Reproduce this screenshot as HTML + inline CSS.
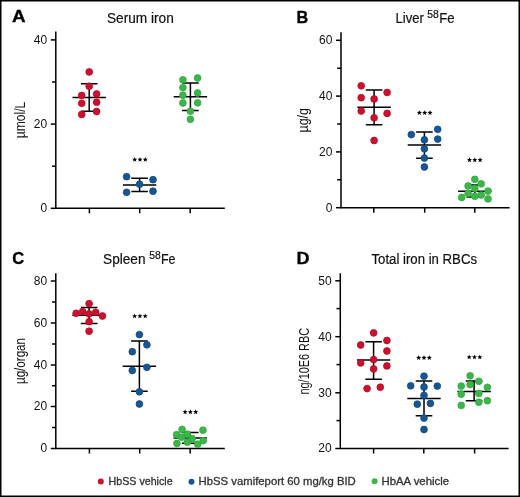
<!DOCTYPE html>
<html><head><meta charset="utf-8"><style>
html,body{margin:0;padding:0;background:#fff;}
body{width:520px;height:497px;overflow:hidden;}
svg{display:block;will-change:transform;}
text{font-family:"Liberation Sans",sans-serif;}
.lab{font-size:17.4px;font-weight:bold;fill:#000;stroke:#000;stroke-width:0.35px;}
.ti{font-size:14px;fill:#111;stroke:#111;stroke-width:0.2px;}
.sup{font-size:10.3px;}
.tk{font-size:12px;fill:#111;text-anchor:end;}
.yl{font-size:14px;fill:#111;}
.lg{font-size:10.5px;fill:#333;stroke:#333;stroke-width:0.3px;}
.ax{stroke:#000;stroke-width:1.5;fill:none;}
.eb{stroke:#000;stroke-width:1.5;fill:none;}
.st{fill:#000;}
</style></head><body>
<svg width="520" height="497" viewBox="0 0 520 497">
<rect x="0.75" y="0.75" width="518.5" height="495.5" fill="#fff" stroke="#000" stroke-width="1.5"/>
<text x="11.9" y="22.4" class="lab" textLength="13.6" lengthAdjust="spacingAndGlyphs">A</text>
<text x="107" y="22.5" class="ti" textLength="66.8" lengthAdjust="spacingAndGlyphs">Serum iron</text>
<path d="M55.8,31.4 V208.3 H224.8" class="ax"/>
<path d="M50.8,39.9 H55.8" class="ax"/>
<text x="47.199999999999996" y="43.699999999999996" class="tk">40</text>
<path d="M50.8,124.1 H55.8" class="ax"/>
<text x="47.199999999999996" y="127.89999999999999" class="tk">20</text>
<path d="M50.8,208.3 H55.8" class="ax"/>
<text x="47.199999999999996" y="212.10000000000002" class="tk">0</text>
<path d="M52.0,82 H55.8" class="ax"/>
<path d="M52.0,166.2 H55.8" class="ax"/>
<path d="M89.4,208.3 V213.3" class="ax"/>
<path d="M139.7,208.3 V213.3" class="ax"/>
<path d="M190.2,208.3 V213.3" class="ax"/>
<text class="yl" transform="translate(24.7,120) rotate(-90)" text-anchor="middle" textLength="36.5" lengthAdjust="spacingAndGlyphs">µmol/L</text>
<path d="M72.5,97.4 H105.9 M80.9,83.7 H97.5 M80.9,111.3 H97.5 M89.2,83.7 V111.3" class="eb"/>
<circle cx="89.2" cy="71.9" r="3.4" fill="#c8122f" stroke="#bf0622" stroke-width="0.75"/>
<circle cx="89.2" cy="86.2" r="3.4" fill="#c8122f" stroke="#bf0622" stroke-width="0.75"/>
<circle cx="81.7" cy="95.5" r="3.4" fill="#c8122f" stroke="#bf0622" stroke-width="0.75"/>
<circle cx="96.6" cy="94" r="3.4" fill="#c8122f" stroke="#bf0622" stroke-width="0.75"/>
<circle cx="81.7" cy="103.3" r="3.4" fill="#c8122f" stroke="#bf0622" stroke-width="0.75"/>
<circle cx="96.6" cy="102.2" r="3.4" fill="#c8122f" stroke="#bf0622" stroke-width="0.75"/>
<circle cx="81.7" cy="114.5" r="3.4" fill="#c8122f" stroke="#bf0622" stroke-width="0.75"/>
<circle cx="96.6" cy="111.5" r="3.4" fill="#c8122f" stroke="#bf0622" stroke-width="0.75"/>
<path d="M122.89999999999999,185 H156.29999999999998 M131.29999999999998,178.2 H147.9 M131.29999999999998,191.4 H147.9 M139.6,178.2 V191.4" class="eb"/>
<circle cx="126.6" cy="176.7" r="3.4" fill="#185692" stroke="#0e4a85" stroke-width="0.75"/>
<circle cx="139.6" cy="184.2" r="3.4" fill="#185692" stroke="#0e4a85" stroke-width="0.75"/>
<circle cx="153" cy="179.7" r="3.4" fill="#185692" stroke="#0e4a85" stroke-width="0.75"/>
<circle cx="126.6" cy="192.3" r="3.4" fill="#185692" stroke="#0e4a85" stroke-width="0.75"/>
<circle cx="153" cy="191.2" r="3.4" fill="#185692" stroke="#0e4a85" stroke-width="0.75"/>
<path d="M173.70000000000002,96.7 H207.1 M182.1,83.1 H198.70000000000002 M182.1,110.5 H198.70000000000002 M190.4,83.1 V110.5" class="eb"/>
<circle cx="182.9" cy="79.8" r="3.4" fill="#3db54a" stroke="#2cab3b" stroke-width="0.75"/>
<circle cx="197.6" cy="78" r="3.4" fill="#3db54a" stroke="#2cab3b" stroke-width="0.75"/>
<circle cx="182.9" cy="87.6" r="3.4" fill="#3db54a" stroke="#2cab3b" stroke-width="0.75"/>
<circle cx="182.9" cy="95.2" r="3.4" fill="#3db54a" stroke="#2cab3b" stroke-width="0.75"/>
<circle cx="197.6" cy="93" r="3.4" fill="#3db54a" stroke="#2cab3b" stroke-width="0.75"/>
<circle cx="182.9" cy="103" r="3.4" fill="#3db54a" stroke="#2cab3b" stroke-width="0.75"/>
<circle cx="197.6" cy="102.8" r="3.4" fill="#3db54a" stroke="#2cab3b" stroke-width="0.75"/>
<circle cx="190.4" cy="111.2" r="3.4" fill="#3db54a" stroke="#2cab3b" stroke-width="0.75"/>
<circle cx="190.4" cy="119.3" r="3.4" fill="#3db54a" stroke="#2cab3b" stroke-width="0.75"/>
<g class="st"><polygon points="134.70,156.95 135.39,158.66 137.22,158.78 135.81,159.96 136.26,161.74 134.70,160.77 133.14,161.74 133.59,159.96 132.18,158.78 134.01,158.66"/><polygon points="140.00,156.95 140.69,158.66 142.52,158.78 141.11,159.96 141.56,161.74 140.00,160.77 138.44,161.74 138.89,159.96 137.48,158.78 139.31,158.66"/><polygon points="145.30,156.95 145.99,158.66 147.82,158.78 146.41,159.96 146.86,161.74 145.30,160.77 143.74,161.74 144.19,159.96 142.78,158.78 144.61,158.66"/></g>
<text x="296.6" y="22.6" class="lab" textLength="11.7" lengthAdjust="spacingAndGlyphs">B</text>
<text x="395.6" y="22.5" class="ti" textLength="28.3" lengthAdjust="spacingAndGlyphs">Liver</text><text x="427.2" y="17.8" class="ti sup">58</text><text x="439.2" y="22.5" class="ti" textLength="15.4" lengthAdjust="spacingAndGlyphs">Fe</text>
<path d="M341,32.2 V207.7 H509.6" class="ax"/>
<path d="M336,40.3 H341" class="ax"/>
<text x="332.4" y="44.099999999999994" class="tk">60</text>
<path d="M336,96.1 H341" class="ax"/>
<text x="332.4" y="99.89999999999999" class="tk">40</text>
<path d="M336,151.9 H341" class="ax"/>
<text x="332.4" y="155.70000000000002" class="tk">20</text>
<path d="M336,207.7 H341" class="ax"/>
<text x="332.4" y="211.5" class="tk">0</text>
<path d="M337.2,68.2 H341" class="ax"/>
<path d="M337.2,124 H341" class="ax"/>
<path d="M337.2,179.8 H341" class="ax"/>
<path d="M373.8,207.7 V212.7" class="ax"/>
<path d="M424.7,207.7 V212.7" class="ax"/>
<path d="M474.8,207.7 V212.7" class="ax"/>
<text class="yl" transform="translate(308.2,120.3) rotate(-90)" text-anchor="middle" textLength="24.5" lengthAdjust="spacingAndGlyphs">µg/g</text>
<path d="M357.40000000000003,107.3 H390.8 M365.8,89.9 H382.40000000000003 M365.8,124.7 H382.40000000000003 M374.1,89.9 V124.7" class="eb"/>
<circle cx="361.2" cy="85.8" r="3.4" fill="#c8122f" stroke="#bf0622" stroke-width="0.75"/>
<circle cx="387.1" cy="92.5" r="3.4" fill="#c8122f" stroke="#bf0622" stroke-width="0.75"/>
<circle cx="361.2" cy="97.7" r="3.4" fill="#c8122f" stroke="#bf0622" stroke-width="0.75"/>
<circle cx="374.1" cy="99" r="3.4" fill="#c8122f" stroke="#bf0622" stroke-width="0.75"/>
<circle cx="361.2" cy="111" r="3.4" fill="#c8122f" stroke="#bf0622" stroke-width="0.75"/>
<circle cx="387.1" cy="113.4" r="3.4" fill="#c8122f" stroke="#bf0622" stroke-width="0.75"/>
<circle cx="374.1" cy="117.8" r="3.4" fill="#c8122f" stroke="#bf0622" stroke-width="0.75"/>
<circle cx="374.1" cy="140.5" r="3.4" fill="#c8122f" stroke="#bf0622" stroke-width="0.75"/>
<path d="M407.7,145 H441.09999999999997 M416.09999999999997,131.9 H432.7 M416.09999999999997,158.3 H432.7 M424.4,131.9 V158.3" class="eb"/>
<circle cx="411.3" cy="134.6" r="3.4" fill="#185692" stroke="#0e4a85" stroke-width="0.75"/>
<circle cx="437.7" cy="129.3" r="3.4" fill="#185692" stroke="#0e4a85" stroke-width="0.75"/>
<circle cx="424.4" cy="139.8" r="3.4" fill="#185692" stroke="#0e4a85" stroke-width="0.75"/>
<circle cx="437.7" cy="139.1" r="3.4" fill="#185692" stroke="#0e4a85" stroke-width="0.75"/>
<circle cx="424.4" cy="148.8" r="3.4" fill="#185692" stroke="#0e4a85" stroke-width="0.75"/>
<circle cx="424.4" cy="158.1" r="3.4" fill="#185692" stroke="#0e4a85" stroke-width="0.75"/>
<circle cx="424.4" cy="167" r="3.4" fill="#185692" stroke="#0e4a85" stroke-width="0.75"/>
<path d="M458.1,191.3 H491.5 M466.5,185 H483.1 M466.5,197.1 H483.1 M474.8,185 V197.1" class="eb"/>
<circle cx="474.8" cy="179.3" r="3.4" fill="#3db54a" stroke="#2cab3b" stroke-width="0.75"/>
<circle cx="481.2" cy="183.8" r="3.4" fill="#3db54a" stroke="#2cab3b" stroke-width="0.75"/>
<circle cx="468.1" cy="185.9" r="3.4" fill="#3db54a" stroke="#2cab3b" stroke-width="0.75"/>
<circle cx="474.8" cy="188.4" r="3.4" fill="#3db54a" stroke="#2cab3b" stroke-width="0.75"/>
<circle cx="488" cy="191.1" r="3.4" fill="#3db54a" stroke="#2cab3b" stroke-width="0.75"/>
<circle cx="468.1" cy="193.5" r="3.4" fill="#3db54a" stroke="#2cab3b" stroke-width="0.75"/>
<circle cx="481.2" cy="195" r="3.4" fill="#3db54a" stroke="#2cab3b" stroke-width="0.75"/>
<circle cx="474.8" cy="196.3" r="3.4" fill="#3db54a" stroke="#2cab3b" stroke-width="0.75"/>
<circle cx="461.7" cy="197.5" r="3.4" fill="#3db54a" stroke="#2cab3b" stroke-width="0.75"/>
<circle cx="488" cy="198.9" r="3.4" fill="#3db54a" stroke="#2cab3b" stroke-width="0.75"/>
<g class="st"><polygon points="419.40,110.15 420.09,111.86 421.92,111.98 420.51,113.16 420.96,114.94 419.40,113.97 417.84,114.94 418.29,113.16 416.88,111.98 418.71,111.86"/><polygon points="424.70,110.15 425.39,111.86 427.22,111.98 425.81,113.16 426.26,114.94 424.70,113.97 423.14,114.94 423.59,113.16 422.18,111.98 424.01,111.86"/><polygon points="430.00,110.15 430.69,111.86 432.52,111.98 431.11,113.16 431.56,114.94 430.00,113.97 428.44,114.94 428.89,113.16 427.48,111.98 429.31,111.86"/></g>
<g class="st"><polygon points="469.50,157.35 470.19,159.06 472.02,159.18 470.61,160.36 471.06,162.14 469.50,161.17 467.94,162.14 468.39,160.36 466.98,159.18 468.81,159.06"/><polygon points="474.80,157.35 475.49,159.06 477.32,159.18 475.91,160.36 476.36,162.14 474.80,161.17 473.24,162.14 473.69,160.36 472.28,159.18 474.11,159.06"/><polygon points="480.10,157.35 480.79,159.06 482.62,159.18 481.21,160.36 481.66,162.14 480.10,161.17 478.54,162.14 478.99,160.36 477.58,159.18 479.41,159.06"/></g>
<text x="12.2" y="263.7" class="lab" textLength="11.9" lengthAdjust="spacingAndGlyphs">C</text>
<text x="103.1" y="263.6" class="ti" textLength="42.4" lengthAdjust="spacingAndGlyphs">Spleen</text><text x="149.2" y="258.6" class="ti sup">58</text><text x="160.9" y="263.6" class="ti" textLength="14.6" lengthAdjust="spacingAndGlyphs">Fe</text>
<path d="M55.8,273.2 V448.5 H224.8" class="ax"/>
<path d="M50.8,281 H55.8" class="ax"/>
<text x="47.199999999999996" y="284.8" class="tk">80</text>
<path d="M50.8,323 H55.8" class="ax"/>
<text x="47.199999999999996" y="326.8" class="tk">60</text>
<path d="M50.8,365 H55.8" class="ax"/>
<text x="47.199999999999996" y="368.8" class="tk">40</text>
<path d="M50.8,406.5 H55.8" class="ax"/>
<text x="47.199999999999996" y="410.3" class="tk">20</text>
<path d="M50.8,448.5 H55.8" class="ax"/>
<text x="47.199999999999996" y="452.3" class="tk">0</text>
<path d="M52.0,302 H55.8" class="ax"/>
<path d="M52.0,344 H55.8" class="ax"/>
<path d="M52.0,385.7 H55.8" class="ax"/>
<path d="M52.0,427.5 H55.8" class="ax"/>
<path d="M89.4,448.5 V453.5" class="ax"/>
<path d="M139.7,448.5 V453.5" class="ax"/>
<path d="M190.2,448.5 V453.5" class="ax"/>
<text class="yl" transform="translate(25,361) rotate(-90)" text-anchor="middle" textLength="46" lengthAdjust="spacingAndGlyphs">µg/organ</text>
<path d="M72.39999999999999,315.2 H105.8 M80.8,307.6 H97.39999999999999 M80.8,323.5 H97.39999999999999 M89.1,307.6 V323.5" class="eb"/>
<circle cx="89.1" cy="303.6" r="3.4" fill="#c8122f" stroke="#bf0622" stroke-width="0.75"/>
<circle cx="76.1" cy="313.3" r="3.4" fill="#c8122f" stroke="#bf0622" stroke-width="0.75"/>
<circle cx="82.6" cy="311.6" r="3.4" fill="#c8122f" stroke="#bf0622" stroke-width="0.75"/>
<circle cx="89.1" cy="313.8" r="3.4" fill="#c8122f" stroke="#bf0622" stroke-width="0.75"/>
<circle cx="95.7" cy="312.3" r="3.4" fill="#c8122f" stroke="#bf0622" stroke-width="0.75"/>
<circle cx="102.4" cy="316" r="3.4" fill="#c8122f" stroke="#bf0622" stroke-width="0.75"/>
<circle cx="89.1" cy="321.7" r="3.4" fill="#c8122f" stroke="#bf0622" stroke-width="0.75"/>
<circle cx="89.1" cy="331.2" r="3.4" fill="#c8122f" stroke="#bf0622" stroke-width="0.75"/>
<path d="M122.7,366.2 H156.1 M131.1,341.1 H147.70000000000002 M131.1,391.3 H147.70000000000002 M139.4,341.1 V391.3" class="eb"/>
<circle cx="139.4" cy="334.6" r="3.4" fill="#185692" stroke="#0e4a85" stroke-width="0.75"/>
<circle cx="146.9" cy="344.8" r="3.4" fill="#185692" stroke="#0e4a85" stroke-width="0.75"/>
<circle cx="132.3" cy="351.7" r="3.4" fill="#185692" stroke="#0e4a85" stroke-width="0.75"/>
<circle cx="146.9" cy="367.3" r="3.4" fill="#185692" stroke="#0e4a85" stroke-width="0.75"/>
<circle cx="132.3" cy="370.5" r="3.4" fill="#185692" stroke="#0e4a85" stroke-width="0.75"/>
<circle cx="139.4" cy="391.8" r="3.4" fill="#185692" stroke="#0e4a85" stroke-width="0.75"/>
<circle cx="139.4" cy="404" r="3.4" fill="#185692" stroke="#0e4a85" stroke-width="0.75"/>
<path d="M173.5,437.9 H206.89999999999998 M181.89999999999998,432.4 H198.5 M181.89999999999998,443.2 H198.5 M190.2,432.4 V443.2" class="eb"/>
<circle cx="182.1" cy="429.4" r="3.4" fill="#3db54a" stroke="#2cab3b" stroke-width="0.75"/>
<circle cx="203" cy="430.2" r="3.4" fill="#3db54a" stroke="#2cab3b" stroke-width="0.75"/>
<circle cx="176.6" cy="434.7" r="3.4" fill="#3db54a" stroke="#2cab3b" stroke-width="0.75"/>
<circle cx="187.3" cy="434.2" r="3.4" fill="#3db54a" stroke="#2cab3b" stroke-width="0.75"/>
<circle cx="181.6" cy="437.2" r="3.4" fill="#3db54a" stroke="#2cab3b" stroke-width="0.75"/>
<circle cx="192.2" cy="438.7" r="3.4" fill="#3db54a" stroke="#2cab3b" stroke-width="0.75"/>
<circle cx="187.3" cy="442.2" r="3.4" fill="#3db54a" stroke="#2cab3b" stroke-width="0.75"/>
<circle cx="203.2" cy="440.7" r="3.4" fill="#3db54a" stroke="#2cab3b" stroke-width="0.75"/>
<circle cx="176.9" cy="443.5" r="3.4" fill="#3db54a" stroke="#2cab3b" stroke-width="0.75"/>
<circle cx="197.7" cy="444.2" r="3.4" fill="#3db54a" stroke="#2cab3b" stroke-width="0.75"/>
<g class="st"><polygon points="134.60,313.45 135.29,315.16 137.12,315.28 135.71,316.46 136.16,318.24 134.60,317.27 133.04,318.24 133.49,316.46 132.08,315.28 133.91,315.16"/><polygon points="139.90,313.45 140.59,315.16 142.42,315.28 141.01,316.46 141.46,318.24 139.90,317.27 138.34,318.24 138.79,316.46 137.38,315.28 139.21,315.16"/><polygon points="145.20,313.45 145.89,315.16 147.72,315.28 146.31,316.46 146.76,318.24 145.20,317.27 143.64,318.24 144.09,316.46 142.68,315.28 144.51,315.16"/></g>
<g class="st"><polygon points="185.10,409.35 185.79,411.06 187.62,411.18 186.21,412.36 186.66,414.14 185.10,413.17 183.54,414.14 183.99,412.36 182.58,411.18 184.41,411.06"/><polygon points="190.40,409.35 191.09,411.06 192.92,411.18 191.51,412.36 191.96,414.14 190.40,413.17 188.84,414.14 189.29,412.36 187.88,411.18 189.71,411.06"/><polygon points="195.70,409.35 196.39,411.06 198.22,411.18 196.81,412.36 197.26,414.14 195.70,413.17 194.14,414.14 194.59,412.36 193.18,411.18 195.01,411.06"/></g>
<text x="296.5" y="263.5" class="lab" textLength="13.0" lengthAdjust="spacingAndGlyphs">D</text>
<text x="371.5" y="263.6" class="ti" textLength="105.5" lengthAdjust="spacingAndGlyphs">Total iron in RBCs</text>
<path d="M340.3,273.2 V448.5 H508.6" class="ax"/>
<path d="M335.3,280.8 H340.3" class="ax"/>
<text x="331.7" y="284.6" class="tk">50</text>
<path d="M335.3,336.7 H340.3" class="ax"/>
<text x="331.7" y="340.5" class="tk">40</text>
<path d="M335.3,392.8 H340.3" class="ax"/>
<text x="331.7" y="396.6" class="tk">30</text>
<path d="M335.3,448.5 H340.3" class="ax"/>
<text x="331.7" y="452.3" class="tk">20</text>
<path d="M336.5,308.6 H340.3" class="ax"/>
<path d="M336.5,364.6 H340.3" class="ax"/>
<path d="M336.5,420.6 H340.3" class="ax"/>
<path d="M373.6,448.5 V453.5" class="ax"/>
<path d="M423.8,448.5 V453.5" class="ax"/>
<path d="M474.6,448.5 V453.5" class="ax"/>
<text class="yl" transform="translate(308.8,361.2) rotate(-90)" text-anchor="middle" textLength="66.6" lengthAdjust="spacingAndGlyphs">ng/10E6 RBC</text>
<path d="M356.90000000000003,360.1 H390.3 M365.3,341.7 H381.90000000000003 M365.3,379.2 H381.90000000000003 M373.6,341.7 V379.2" class="eb"/>
<circle cx="373.6" cy="332.9" r="3.4" fill="#c8122f" stroke="#bf0622" stroke-width="0.75"/>
<circle cx="386.9" cy="340.5" r="3.4" fill="#c8122f" stroke="#bf0622" stroke-width="0.75"/>
<circle cx="360.7" cy="345" r="3.4" fill="#c8122f" stroke="#bf0622" stroke-width="0.75"/>
<circle cx="386.9" cy="351" r="3.4" fill="#c8122f" stroke="#bf0622" stroke-width="0.75"/>
<circle cx="373.6" cy="359.6" r="3.4" fill="#c8122f" stroke="#bf0622" stroke-width="0.75"/>
<circle cx="360.7" cy="362.9" r="3.4" fill="#c8122f" stroke="#bf0622" stroke-width="0.75"/>
<circle cx="386.9" cy="365.9" r="3.4" fill="#c8122f" stroke="#bf0622" stroke-width="0.75"/>
<circle cx="373.6" cy="368.9" r="3.4" fill="#c8122f" stroke="#bf0622" stroke-width="0.75"/>
<circle cx="367.1" cy="388.6" r="3.4" fill="#c8122f" stroke="#bf0622" stroke-width="0.75"/>
<circle cx="380.3" cy="387.2" r="3.4" fill="#c8122f" stroke="#bf0622" stroke-width="0.75"/>
<path d="M407.3,398.4 H440.7 M415.7,381.1 H432.3 M415.7,415.7 H432.3 M424,381.1 V415.7" class="eb"/>
<circle cx="424" cy="376.2" r="3.4" fill="#185692" stroke="#0e4a85" stroke-width="0.75"/>
<circle cx="410.7" cy="385.8" r="3.4" fill="#185692" stroke="#0e4a85" stroke-width="0.75"/>
<circle cx="424" cy="387" r="3.4" fill="#185692" stroke="#0e4a85" stroke-width="0.75"/>
<circle cx="437.3" cy="386.1" r="3.4" fill="#185692" stroke="#0e4a85" stroke-width="0.75"/>
<circle cx="424" cy="395.4" r="3.4" fill="#185692" stroke="#0e4a85" stroke-width="0.75"/>
<circle cx="417.3" cy="404.2" r="3.4" fill="#185692" stroke="#0e4a85" stroke-width="0.75"/>
<circle cx="430.4" cy="403.4" r="3.4" fill="#185692" stroke="#0e4a85" stroke-width="0.75"/>
<circle cx="424" cy="418.1" r="3.4" fill="#185692" stroke="#0e4a85" stroke-width="0.75"/>
<circle cx="424" cy="429.5" r="3.4" fill="#185692" stroke="#0e4a85" stroke-width="0.75"/>
<path d="M457.40000000000003,391.4 H490.8 M465.8,381.1 H482.40000000000003 M465.8,400.7 H482.40000000000003 M474.1,381.1 V400.7" class="eb"/>
<circle cx="470.1" cy="375.8" r="3.4" fill="#3db54a" stroke="#2cab3b" stroke-width="0.75"/>
<circle cx="478.8" cy="381.3" r="3.4" fill="#3db54a" stroke="#2cab3b" stroke-width="0.75"/>
<circle cx="461.2" cy="386.1" r="3.4" fill="#3db54a" stroke="#2cab3b" stroke-width="0.75"/>
<circle cx="470.1" cy="384.6" r="3.4" fill="#3db54a" stroke="#2cab3b" stroke-width="0.75"/>
<circle cx="487.4" cy="387.3" r="3.4" fill="#3db54a" stroke="#2cab3b" stroke-width="0.75"/>
<circle cx="461.2" cy="394.2" r="3.4" fill="#3db54a" stroke="#2cab3b" stroke-width="0.75"/>
<circle cx="478.8" cy="393.4" r="3.4" fill="#3db54a" stroke="#2cab3b" stroke-width="0.75"/>
<circle cx="478.8" cy="402.2" r="3.4" fill="#3db54a" stroke="#2cab3b" stroke-width="0.75"/>
<circle cx="487.4" cy="400.7" r="3.4" fill="#3db54a" stroke="#2cab3b" stroke-width="0.75"/>
<circle cx="461.2" cy="405.4" r="3.4" fill="#3db54a" stroke="#2cab3b" stroke-width="0.75"/>
<g class="st"><polygon points="418.70,355.15 419.39,356.86 421.22,356.98 419.81,358.16 420.26,359.94 418.70,358.97 417.14,359.94 417.59,358.16 416.18,356.98 418.01,356.86"/><polygon points="424.00,355.15 424.69,356.86 426.52,356.98 425.11,358.16 425.56,359.94 424.00,358.97 422.44,359.94 422.89,358.16 421.48,356.98 423.31,356.86"/><polygon points="429.30,355.15 429.99,356.86 431.82,356.98 430.41,358.16 430.86,359.94 429.30,358.97 427.74,359.94 428.19,358.16 426.78,356.98 428.61,356.86"/></g>
<g class="st"><polygon points="469.20,354.55 469.89,356.26 471.72,356.38 470.31,357.56 470.76,359.34 469.20,358.37 467.64,359.34 468.09,357.56 466.68,356.38 468.51,356.26"/><polygon points="474.50,354.55 475.19,356.26 477.02,356.38 475.61,357.56 476.06,359.34 474.50,358.37 472.94,359.34 473.39,357.56 471.98,356.38 473.81,356.26"/><polygon points="479.80,354.55 480.49,356.26 482.32,356.38 480.91,357.56 481.36,359.34 479.80,358.37 478.24,359.34 478.69,357.56 477.28,356.38 479.11,356.26"/></g>

<circle cx="100.8" cy="481.5" r="3" fill="#c8122f"/>
<text x="108.6" y="484.6" class="lg" textLength="64" lengthAdjust="spacingAndGlyphs">HbSS vehicle</text>
<circle cx="191.5" cy="481.8" r="3" fill="#185692"/>
<text x="198.6" y="484.6" class="lg" textLength="157.2" lengthAdjust="spacingAndGlyphs">HbSS vamifeport 60 mg/kg BID</text>
<circle cx="374.6" cy="481.3" r="3" fill="#3db54a"/>
<text x="381.5" y="484.6" class="lg" textLength="67.5" lengthAdjust="spacingAndGlyphs">HbAA vehicle</text>

</svg>
</body></html>
